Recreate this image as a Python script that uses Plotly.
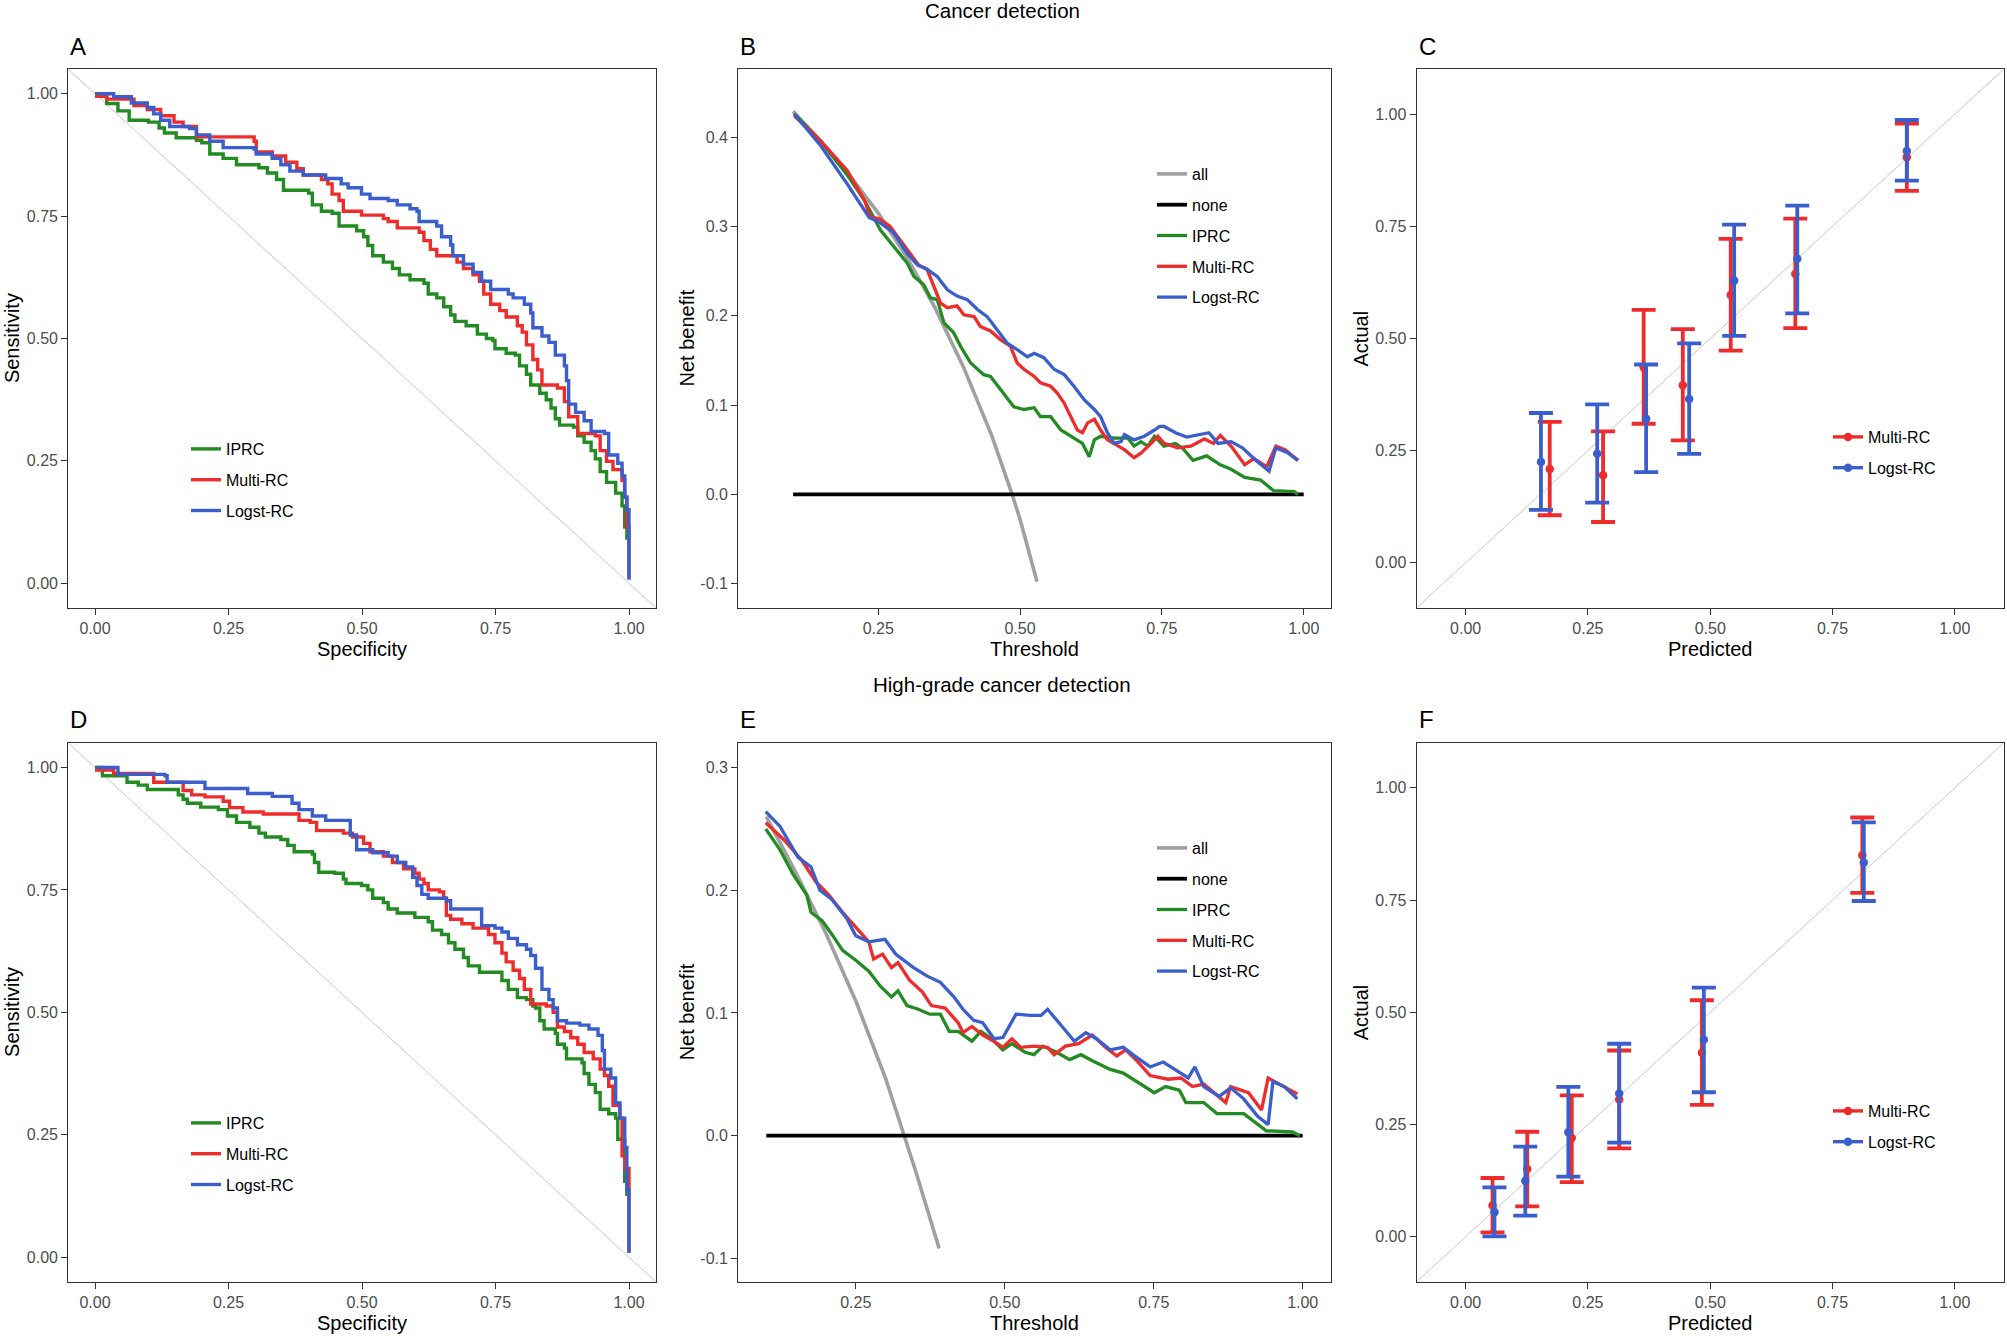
# ROC / decision curve / calibration panels (2 x 3 grid)

import plotly.graph_objects as go

FONT = "Liberation Sans, Arial, sans-serif"
GREEN = "#228B22"
RED = "#EE2C2C"
BLUE = "#3A5FCD"
GREY_ALL = "#A0A0A0"
DIAG = "#C8C8C8"
FRAME = "#333333"

# ---------------- A: ROC, cancer detection ----------------
A_IPRC_SPEC = [0, 0.022, 0.043, 0.064, 0.10, 0.12, 0.13, 0.152, 0.19, 0.20, 0.215, 0.24, 0.265, 0.307, 0.323,
               0.34, 0.353, 0.40, 0.407, 0.424, 0.444, 0.457, 0.49, 0.503, 0.511, 0.52, 0.54, 0.557, 0.57, 0.59,
               0.616, 0.624, 0.64, 0.653, 0.666, 0.674, 0.695, 0.716, 0.733, 0.745, 0.749, 0.77, 0.787, 0.795,
               0.808, 0.816, 0.833, 0.845, 0.854, 0.862, 0.87, 0.896, 0.904, 0.916, 0.929, 0.937, 0.946, 0.958,
               0.975, 0.987, 0.992, 0.996]
A_IPRC_SENS = [1.0, 0.98, 0.965, 0.946, 0.942, 0.93, 0.92, 0.91, 0.905, 0.9, 0.877, 0.868, 0.855, 0.849, 0.838,
               0.825, 0.803, 0.797, 0.773, 0.76, 0.756, 0.73, 0.72, 0.708, 0.69, 0.669, 0.656, 0.643, 0.63, 0.62,
               0.613, 0.591, 0.583, 0.565, 0.548, 0.535, 0.526, 0.509, 0.5, 0.496, 0.479, 0.47, 0.466, 0.444,
               0.427, 0.405, 0.388, 0.375, 0.358, 0.336, 0.323, 0.319, 0.301, 0.288, 0.271, 0.254, 0.228, 0.206,
               0.184, 0.158, 0.115, 0.089]
A_MULTI_SPEC = [0.0, 0.022, 0.073, 0.098, 0.123, 0.148, 0.165, 0.19, 0.26, 0.298, 0.302, 0.332, 0.357, 0.378,
                0.39, 0.424, 0.436, 0.444, 0.457, 0.465, 0.499, 0.54, 0.549, 0.566, 0.607, 0.616, 0.628, 0.64,
                0.666, 0.678, 0.69, 0.708, 0.72, 0.728, 0.741, 0.758, 0.77, 0.791, 0.80, 0.808, 0.82, 0.829,
                0.837, 0.866, 0.879, 0.887, 0.904, 0.937, 0.946, 0.958, 0.97, 0.987, 0.992, 0.996, 1.0]
A_MULTI_SENS = [0.995, 0.989, 0.976, 0.968, 0.955, 0.942, 0.933, 0.912, 0.912, 0.903, 0.881, 0.873, 0.86, 0.847,
                0.834, 0.825, 0.816, 0.795, 0.782, 0.76, 0.752, 0.745, 0.739, 0.726, 0.717, 0.70, 0.682, 0.669,
                0.669, 0.656, 0.643, 0.63, 0.617, 0.591, 0.57, 0.557, 0.544, 0.526, 0.513, 0.487, 0.457, 0.436,
                0.405, 0.399, 0.371, 0.34, 0.306, 0.301, 0.271, 0.249, 0.232, 0.21, 0.176, 0.115, 0.011]
A_LOGST_SPEC = [0.004, 0.035, 0.068, 0.098, 0.11, 0.123, 0.14, 0.177, 0.19, 0.215, 0.24, 0.298, 0.302, 0.332,
                0.348, 0.365, 0.39, 0.432, 0.461, 0.474, 0.499, 0.515, 0.549, 0.566, 0.59, 0.603, 0.607, 0.64,
                0.649, 0.666, 0.67, 0.69, 0.708, 0.724, 0.741, 0.774, 0.783, 0.804, 0.816, 0.82, 0.837, 0.85,
                0.862, 0.879, 0.883, 0.887, 0.90, 0.916, 0.929, 0.954, 0.962, 0.979, 0.987, 0.992, 0.996, 1.0]
A_LOGST_SENS = [1.0, 0.994, 0.981, 0.972, 0.959, 0.946, 0.933, 0.929, 0.916, 0.903, 0.89, 0.887, 0.877, 0.868,
                0.855, 0.842, 0.834, 0.827, 0.816, 0.808, 0.795, 0.786, 0.782, 0.773, 0.765, 0.76, 0.739, 0.73,
                0.708, 0.691, 0.669, 0.652, 0.635, 0.617, 0.60, 0.591, 0.583, 0.57, 0.552, 0.522, 0.505, 0.492,
                0.466, 0.444, 0.414, 0.366, 0.349, 0.332, 0.31, 0.306, 0.262, 0.245, 0.219, 0.176, 0.15, 0.007]

# ---------------- D: ROC, high-grade cancer detection ----------------
D_IPRC_SPEC = [0.0, 0.014, 0.043, 0.06, 0.081, 0.098, 0.148, 0.156, 0.165, 0.173, 0.198, 0.231, 0.248, 0.265,
               0.29, 0.307, 0.319, 0.348, 0.361, 0.373, 0.407, 0.411, 0.419, 0.449, 0.465, 0.47, 0.499, 0.511,
               0.52, 0.54, 0.549, 0.566, 0.599, 0.624, 0.632, 0.649, 0.662, 0.674, 0.69, 0.699, 0.72, 0.754,
               0.762, 0.774, 0.791, 0.808, 0.82, 0.825, 0.833, 0.841, 0.862, 0.866, 0.879, 0.883, 0.912, 0.916,
               0.925, 0.937, 0.946, 0.962, 0.975, 0.979, 0.992, 0.996]
D_IPRC_SENS = [1.0, 0.983, 0.983, 0.97, 0.964, 0.955, 0.955, 0.944, 0.935, 0.927, 0.919, 0.914, 0.901, 0.888,
               0.878, 0.866, 0.858, 0.853, 0.841, 0.828, 0.823, 0.806, 0.786, 0.784, 0.772, 0.763, 0.759, 0.75,
               0.733, 0.724, 0.711, 0.703, 0.694, 0.685, 0.668, 0.659, 0.642, 0.629, 0.612, 0.595, 0.582, 0.582,
               0.565, 0.547, 0.53, 0.526, 0.513, 0.509, 0.483, 0.466, 0.457, 0.435, 0.427, 0.405, 0.397, 0.375,
               0.353, 0.336, 0.302, 0.293, 0.284, 0.241, 0.155, 0.125]
D_MULTI_SPEC = [0.0, 0.035, 0.106, 0.11, 0.148, 0.165, 0.181, 0.206, 0.24, 0.252, 0.277, 0.315, 0.369, 0.382,
                0.403, 0.415, 0.465, 0.482, 0.503, 0.515, 0.54, 0.557, 0.578, 0.599, 0.607, 0.616, 0.624, 0.645,
                0.653, 0.658, 0.666, 0.687, 0.708, 0.728, 0.737, 0.749, 0.762, 0.77, 0.783, 0.795, 0.804, 0.816,
                0.845, 0.858, 0.866, 0.879, 0.891, 0.904, 0.916, 0.933, 0.946, 0.954, 0.962, 0.97, 0.983, 0.987,
                0.992, 1.0]
D_MULTI_SENS = [0.995, 0.988, 0.988, 0.97, 0.97, 0.953, 0.944, 0.94, 0.931, 0.918, 0.909, 0.905, 0.905, 0.892,
                0.888, 0.871, 0.866, 0.858, 0.845, 0.828, 0.819, 0.806, 0.793, 0.784, 0.772, 0.763, 0.75, 0.746,
                0.733, 0.698, 0.69, 0.681, 0.672, 0.672, 0.659, 0.642, 0.621, 0.603, 0.586, 0.569, 0.547, 0.517,
                0.513, 0.50, 0.47, 0.461, 0.448, 0.435, 0.418, 0.405, 0.384, 0.371, 0.349, 0.31, 0.284, 0.207,
                0.181, 0.009]
D_LOGST_SPEC = [0.004, 0.039, 0.043, 0.131, 0.135, 0.194, 0.206, 0.265, 0.286, 0.332, 0.357, 0.369, 0.382,
                0.407, 0.432, 0.474, 0.478, 0.49, 0.52, 0.549, 0.566, 0.582, 0.595, 0.603, 0.612, 0.624, 0.658,
                0.666, 0.72, 0.724, 0.749, 0.762, 0.774, 0.791, 0.808, 0.816, 0.825, 0.833, 0.837, 0.85, 0.858,
                0.866, 0.883, 0.908, 0.925, 0.942, 0.95, 0.954, 0.966, 0.975, 0.983, 0.992, 0.996, 1.0]
D_LOGST_SENS = [1.0, 1.0, 0.986, 0.983, 0.97, 0.97, 0.957, 0.957, 0.947, 0.941, 0.941, 0.927, 0.914, 0.901,
                0.892, 0.892, 0.862, 0.832, 0.826, 0.819, 0.806, 0.797, 0.776, 0.759, 0.741, 0.733, 0.728, 0.711,
                0.711, 0.677, 0.672, 0.664, 0.651, 0.638, 0.629, 0.616, 0.59, 0.59, 0.547, 0.526, 0.509, 0.483,
                0.478, 0.474, 0.466, 0.453, 0.422, 0.384, 0.366, 0.315, 0.284, 0.224, 0.138, 0.009]

ROC_DIAG_X = [-0.05, 1.05]
ROC_DIAG_Y = [1.05, -0.05]

# ---------------- B: decision curves, cancer detection ----------------
B_ALL_T = [0.10, 0.15, 0.20, 0.25, 0.30, 0.35, 0.40, 0.45, 0.486, 0.50, 0.53]
B_ALL_NB = [0.429, 0.395, 0.357, 0.315, 0.266, 0.209, 0.143, 0.066, 0.0, -0.028, -0.098]
B_NONE_T = [0.10, 1.00]
B_NONE_NB = [0.0, 0.0]
B_IPRC_T = [0.102, 0.148, 0.195, 0.226, 0.254, 0.277, 0.301, 0.313, 0.330, 0.342, 0.354, 0.366, 0.383, 0.395,
            0.413, 0.436, 0.448, 0.466, 0.489, 0.507, 0.525, 0.536, 0.554, 0.572, 0.595, 0.610, 0.622, 0.631,
            0.642, 0.666, 0.690, 0.701, 0.713, 0.725, 0.737, 0.754, 0.774, 0.786, 0.805, 0.829, 0.853, 0.872,
            0.896, 0.924, 0.947, 0.983, 0.99]
B_IPRC_NB = [0.426, 0.396, 0.358, 0.329, 0.296, 0.278, 0.259, 0.244, 0.235, 0.220, 0.218, 0.192, 0.181, 0.166,
             0.147, 0.134, 0.132, 0.117, 0.098, 0.095, 0.097, 0.087, 0.087, 0.072, 0.063, 0.057, 0.042, 0.061,
             0.065, 0.063, 0.063, 0.054, 0.059, 0.054, 0.065, 0.054, 0.057, 0.052, 0.038, 0.043, 0.033, 0.028,
             0.019, 0.016, 0.004, 0.003, 0.0]
B_MULTI_T = [0.102, 0.148, 0.195, 0.226, 0.236, 0.254, 0.271, 0.289, 0.307, 0.321, 0.336, 0.348, 0.360, 0.372,
             0.389, 0.401, 0.419, 0.430, 0.448, 0.466, 0.483, 0.495, 0.507, 0.525, 0.536, 0.554, 0.566, 0.578,
             0.589, 0.601, 0.610, 0.619, 0.631, 0.642, 0.654, 0.666, 0.684, 0.701, 0.713, 0.731, 0.743, 0.754,
             0.778, 0.801, 0.825, 0.841, 0.853, 0.872, 0.896, 0.912, 0.935, 0.951, 0.967, 0.99]
B_MULTI_NB = [0.424, 0.396, 0.363, 0.329, 0.311, 0.308, 0.300, 0.285, 0.270, 0.257, 0.252, 0.233, 0.214, 0.209,
              0.211, 0.201, 0.199, 0.188, 0.183, 0.173, 0.166, 0.147, 0.140, 0.132, 0.125, 0.121, 0.113, 0.102,
              0.087, 0.072, 0.069, 0.080, 0.084, 0.072, 0.061, 0.057, 0.050, 0.041, 0.046, 0.057, 0.065, 0.057,
              0.052, 0.054, 0.062, 0.057, 0.066, 0.054, 0.033, 0.040, 0.031, 0.054, 0.050, 0.038]
B_LOGST_T = [0.102, 0.148, 0.195, 0.234, 0.254, 0.277, 0.301, 0.319, 0.336, 0.354, 0.372, 0.389, 0.407, 0.425,
             0.442, 0.460, 0.478, 0.495, 0.513, 0.525, 0.542, 0.560, 0.578, 0.595, 0.613, 0.631, 0.642, 0.654,
             0.666, 0.678, 0.684, 0.701, 0.719, 0.737, 0.746, 0.754, 0.774, 0.794, 0.813, 0.833, 0.849, 0.872,
             0.892, 0.916, 0.939, 0.951, 0.971, 0.99]
B_LOGST_NB = [0.426, 0.391, 0.348, 0.310, 0.304, 0.293, 0.270, 0.257, 0.252, 0.244, 0.229, 0.222, 0.218, 0.207,
              0.199, 0.184, 0.169, 0.162, 0.154, 0.158, 0.153, 0.140, 0.134, 0.121, 0.106, 0.095, 0.087, 0.069,
              0.057, 0.059, 0.067, 0.061, 0.065, 0.072, 0.076, 0.076, 0.069, 0.064, 0.066, 0.069, 0.057, 0.059,
              0.052, 0.038, 0.026, 0.052, 0.047, 0.038]

# ---------------- E: decision curves, high-grade ----------------
E_ALL_T = [0.10, 0.15, 0.20, 0.25, 0.30, 0.332, 0.35, 0.39]
E_ALL_NB = [0.26, 0.214, 0.165, 0.11, 0.047, 0.0, -0.028, -0.092]
E_NONE_T = [0.10, 1.00]
E_NONE_NB = [0.0, 0.0]
E_IPRC_T = [0.099, 0.123, 0.145, 0.168, 0.175, 0.194, 0.213, 0.228, 0.25, 0.272, 0.291, 0.31, 0.321, 0.336,
            0.355, 0.374, 0.392, 0.407, 0.422, 0.445, 0.46, 0.478, 0.497, 0.512, 0.534, 0.549, 0.564, 0.587,
            0.609, 0.628, 0.647, 0.677, 0.699, 0.729, 0.751, 0.77, 0.793, 0.804, 0.834, 0.856, 0.901, 0.939,
            0.983, 0.995]
E_IPRC_NB = [0.250, 0.233, 0.213, 0.196, 0.182, 0.175, 0.162, 0.151, 0.143, 0.134, 0.122, 0.113, 0.118, 0.106,
             0.103, 0.099, 0.099, 0.085, 0.085, 0.077, 0.085, 0.079, 0.070, 0.075, 0.068, 0.066, 0.073, 0.068,
             0.062, 0.066, 0.061, 0.054, 0.051, 0.042, 0.035, 0.040, 0.037, 0.027, 0.027, 0.018, 0.018, 0.004,
             0.003, 0.0]
E_MULTI_T = [0.099, 0.13, 0.16, 0.183, 0.205, 0.228, 0.25, 0.272, 0.28, 0.295, 0.31, 0.321, 0.34, 0.362, 0.377,
             0.40, 0.422, 0.43, 0.445, 0.463, 0.482, 0.497, 0.512, 0.527, 0.549, 0.572, 0.583, 0.602, 0.624,
             0.647, 0.669, 0.688, 0.703, 0.722, 0.744, 0.774, 0.796, 0.815, 0.834, 0.853, 0.871, 0.879, 0.909,
             0.931, 0.942, 0.961, 0.991]
E_MULTI_NB = [0.255, 0.241, 0.224, 0.207, 0.196, 0.182, 0.170, 0.158, 0.144, 0.148, 0.137, 0.141, 0.127, 0.117,
              0.106, 0.104, 0.092, 0.084, 0.089, 0.082, 0.077, 0.072, 0.079, 0.072, 0.073, 0.072, 0.066, 0.073,
              0.075, 0.082, 0.072, 0.065, 0.070, 0.061, 0.049, 0.046, 0.047, 0.040, 0.042, 0.034, 0.027, 0.040,
              0.035, 0.021, 0.047, 0.042, 0.034]
E_LOGST_T = [0.099, 0.123, 0.153, 0.175, 0.19, 0.209, 0.235, 0.25, 0.272, 0.299, 0.317, 0.347, 0.37, 0.392,
             0.415, 0.43, 0.448, 0.463, 0.482, 0.497, 0.519, 0.542, 0.561, 0.572, 0.591, 0.617, 0.636, 0.654,
             0.677, 0.699, 0.718, 0.744, 0.766, 0.789, 0.808, 0.819, 0.834, 0.86, 0.879, 0.901, 0.924, 0.942,
             0.95, 0.969, 0.991]
E_LOGST_NB = [0.264, 0.252, 0.227, 0.219, 0.200, 0.193, 0.177, 0.163, 0.158, 0.160, 0.148, 0.137, 0.130, 0.125,
              0.113, 0.103, 0.094, 0.092, 0.079, 0.080, 0.099, 0.098, 0.098, 0.103, 0.092, 0.077, 0.084, 0.079,
              0.070, 0.072, 0.065, 0.056, 0.060, 0.053, 0.047, 0.056, 0.040, 0.032, 0.039, 0.030, 0.016, 0.009,
              0.044, 0.040, 0.030]

# ---------------- C / F: calibration ----------------
C_MULTI_PRED = [0.172, 0.281, 0.364, 0.444, 0.542, 0.674, 0.902]
C_MULTI_ACT = [0.209, 0.195, 0.436, 0.396, 0.597, 0.644, 0.904]
C_MULTI_LO = [0.106, 0.091, 0.310, 0.273, 0.473, 0.523, 0.829]
C_MULTI_HI = [0.314, 0.293, 0.564, 0.521, 0.722, 0.767, 0.979]
C_LOGST_PRED = [0.154, 0.269, 0.369, 0.457, 0.549, 0.678, 0.902]
C_LOGST_ACT = [0.225, 0.243, 0.321, 0.365, 0.629, 0.678, 0.918]
C_LOGST_LO = [0.118, 0.134, 0.202, 0.243, 0.506, 0.556, 0.852]
C_LOGST_HI = [0.334, 0.353, 0.442, 0.489, 0.754, 0.796, 0.987]

F_MULTI_PRED = [0.055, 0.126, 0.217, 0.314, 0.483, 0.811]
F_MULTI_ACT = [0.070, 0.151, 0.220, 0.306, 0.410, 0.850]
F_MULTI_LO = [0.010, 0.068, 0.122, 0.197, 0.294, 0.766]
F_MULTI_HI = [0.131, 0.234, 0.315, 0.415, 0.527, 0.934]
F_LOGST_PRED = [0.059, 0.122, 0.210, 0.314, 0.487, 0.814]
F_LOGST_ACT = [0.055, 0.125, 0.233, 0.319, 0.439, 0.834]
F_LOGST_LO = [0.001, 0.047, 0.134, 0.210, 0.322, 0.748]
F_LOGST_HI = [0.110, 0.201, 0.334, 0.430, 0.555, 0.923]

CAL_DIAG = [-0.1, 1.1]

TICKS_01 = [0, 0.25, 0.5, 0.75, 1.0]
TICKS_B_X = [0.25, 0.5, 0.75, 1.0]
TICKS_B_Y = [-0.1, 0.0, 0.1, 0.2, 0.3, 0.4]
TICKS_E_Y = [-0.1, 0.0, 0.1, 0.2, 0.3]

W, H = 2007, 1336


def px_x(p):
    return p / W


def px_y(p):
    return 1 - p / H


# panel frames in pixels (left, right) / (top, bottom)
COLS = [(68.3, 655.7), (738.3, 1330.7), (1416.7, 2003.7)]
ROWS = [(69.3, 607.7), (743.0, 1281.7)]


def axis(dom, rng, tickvals, fmt, anchor):
    return dict(
        domain=dom, range=rng, anchor=anchor,
        showline=True, mirror=True, linecolor=FRAME, linewidth=1.3,
        ticks="outside", ticklen=6, tickwidth=1.1, tickcolor=FRAME,
        tickvals=tickvals, ticktext=[fmt.format(v) for v in tickvals],
        tickfont=dict(size=16, color="#4D4D4D", family=FONT),
        showgrid=False, zeroline=False, fixedrange=True,
    )


fig = go.Figure()


def line(x, y, color, width, name, n, legend, shape="linear", show=True):
    fig.add_trace(go.Scatter(
        x=x, y=y, mode="lines", name=name,
        line=dict(color=color, width=width, shape=shape),
        xaxis=f"x{n}", yaxis=f"y{n}", legend=legend,
        legendgroup=f"{legend}_{name}", showlegend=show, hoverinfo="skip",
    ))


# ROC panels
for n, leg, data in [
    (1, "legend", [(A_IPRC_SPEC, A_IPRC_SENS, GREEN, "IPRC"), (A_MULTI_SPEC, A_MULTI_SENS, RED, "Multi-RC"),
                   (A_LOGST_SPEC, A_LOGST_SENS, BLUE, "Logst-RC")]),
    (4, "legend4", [(D_IPRC_SPEC, D_IPRC_SENS, GREEN, "IPRC"), (D_MULTI_SPEC, D_MULTI_SENS, RED, "Multi-RC"),
                    (D_LOGST_SPEC, D_LOGST_SENS, BLUE, "Logst-RC")]),
]:
    line(ROC_DIAG_X, ROC_DIAG_Y, DIAG, 1, "diag", n, leg, show=False)
    for x, y, c, name in data:
        line(x, y, c, 3.4, name, n, leg, shape="hv")

# Decision curve panels
for n, leg, data in [
    (2, "legend2", [(B_ALL_T, B_ALL_NB, GREY_ALL, "all", 3.6), (B_NONE_T, B_NONE_NB, "black", "none", 3.8),
                    (B_IPRC_T, B_IPRC_NB, GREEN, "IPRC", 3.3), (B_MULTI_T, B_MULTI_NB, RED, "Multi-RC", 3.3),
                    (B_LOGST_T, B_LOGST_NB, BLUE, "Logst-RC", 3.3)]),
    (5, "legend5", [(E_ALL_T, E_ALL_NB, GREY_ALL, "all", 3.6), (E_NONE_T, E_NONE_NB, "black", "none", 3.8),
                    (E_IPRC_T, E_IPRC_NB, GREEN, "IPRC", 3.3), (E_MULTI_T, E_MULTI_NB, RED, "Multi-RC", 3.3),
                    (E_LOGST_T, E_LOGST_NB, BLUE, "Logst-RC", 3.3)]),
]:
    for x, y, c, name, w in data:
        line(x, y, c, w, name, n, leg)

# Calibration panels
for n, leg, data in [
    (3, "legend3", [(C_MULTI_PRED, C_MULTI_ACT, C_MULTI_LO, C_MULTI_HI, RED, "Multi-RC"),
                    (C_LOGST_PRED, C_LOGST_ACT, C_LOGST_LO, C_LOGST_HI, BLUE, "Logst-RC")]),
    (6, "legend6", [(F_MULTI_PRED, F_MULTI_ACT, F_MULTI_LO, F_MULTI_HI, RED, "Multi-RC"),
                    (F_LOGST_PRED, F_LOGST_ACT, F_LOGST_LO, F_LOGST_HI, BLUE, "Logst-RC")]),
]:
    line(CAL_DIAG, CAL_DIAG, DIAG, 1, "diag", n, leg, show=False)
    for px, act, lo, hi, c, name in data:
        fig.add_trace(go.Scatter(
            x=px, y=act, mode="markers", name=name,
            marker=dict(color=c, size=8.5),
            error_y=dict(type="data", symmetric=False,
                         array=[h - a for h, a in zip(hi, act)],
                         arrayminus=[a - l for a, l in zip(act, lo)],
                         color=c, thickness=3.8, width=12),
            xaxis=f"x{n}", yaxis=f"y{n}", showlegend=False, hoverinfo="skip",
        ))
    for px, act, lo, hi, c, name in data:
        # legend key (line with point)
        fig.add_trace(go.Scatter(
            x=[None], y=[None], mode="lines+markers", name=name,
            line=dict(color=c, width=3.4), marker=dict(color=c, size=8.5),
            xaxis=f"x{n}", yaxis=f"y{n}", legend=leg, legendgroup=f"{leg}_{name}",
        ))

# axes
ranges = {
    1: ([-0.05, 1.05], [-0.05, 1.05], TICKS_01, TICKS_01, "{:.2f}", "{:.2f}"),
    2: ([0.0034, 1.0476], [-0.127, 0.476], TICKS_B_X, TICKS_B_Y, "{:.2f}", "{:.1f}"),
    3: ([-0.1, 1.1], [-0.1, 1.1], TICKS_01, TICKS_01, "{:.2f}", "{:.2f}"),
    4: ([-0.05, 1.05], [-0.05, 1.05], TICKS_01, TICKS_01, "{:.2f}", "{:.2f}"),
    5: ([0.053, 1.047], [-0.119, 0.320], TICKS_B_X, TICKS_E_Y, "{:.2f}", "{:.1f}"),
    6: ([-0.1, 1.1], [-0.1, 1.1], TICKS_01, TICKS_01, "{:.2f}", "{:.2f}"),
}
layout_axes = {}
for n, (xr, yr, xt, yt, xf, yf) in ranges.items():
    col = COLS[(n - 1) % 3]
    row = ROWS[(n - 1) // 3]
    xdom = [px_x(col[0]), px_x(col[1])]
    ydom = [px_y(row[1]), px_y(row[0])]
    sfx = "" if n == 1 else str(n)
    layout_axes[f"xaxis{sfx}"] = axis(xdom, xr, xt, xf, f"y{sfx}")
    layout_axes[f"yaxis{sfx}"] = axis(ydom, yr, yt, yf, f"x{sfx}")


def legend_at(x_px, top_px):
    return dict(x=px_x(x_px), y=px_y(top_px), xanchor="left", yanchor="top",
                bgcolor="rgba(0,0,0,0)", borderwidth=0, tracegroupgap=7,
                font=dict(size=16, color="black", family=FONT), itemwidth=30)


# annotations: row titles, panel tags, axis titles
ann = []


def text(x_px, y_px, s, size, anchor="center", angle=0):
    ann.append(dict(x=px_x(x_px), y=px_y(y_px), xref="paper", yref="paper", text=s,
                    showarrow=False, xanchor=anchor, yanchor="middle", textangle=angle,
                    font=dict(size=size, color="black", family=FONT)))


text(1002, 10, "Cancer detection", 20.5)
text(1002, 684, "High-grade cancer detection", 20.5)
for (l, r), tag_top, tag_bot in zip(COLS, "ABC", "DEF"):
    text(l, 46.7, tag_top, 24, anchor="left")
    text(l, 719, tag_bot, 24, anchor="left")
xtitles = ["Specificity", "Threshold", "Predicted"]
ytitles = ["Sensitivity", "Net benefit", "Actual"]
ytitle_x = [12.6, 687, 1361]
for i, (l, r) in enumerate(COLS):
    for j, (t, b) in enumerate(ROWS):
        text((l + r) / 2, b + 41, xtitles[i], 20)
        text(ytitle_x[i], (t + b) / 2, ytitles[i], 20, angle=-90)

fig.update_layout(
    width=W, height=H,
    margin=dict(l=0, r=0, t=0, b=0),
    paper_bgcolor="white", plot_bgcolor="white",
    font=dict(family=FONT, color="black"),
    showlegend=True,
    legend=legend_at(186, 432),
    legend2=legend_at(1152, 157),
    legend3=legend_at(1828, 420),
    legend4=legend_at(186, 1106),
    legend5=legend_at(1152, 831),
    legend6=legend_at(1828, 1094),
    annotations=ann,
    **layout_axes,
)

fig.write_html("out.html", config={"displayModeBar": False},
               post_script="document.body.style.margin='0';")
